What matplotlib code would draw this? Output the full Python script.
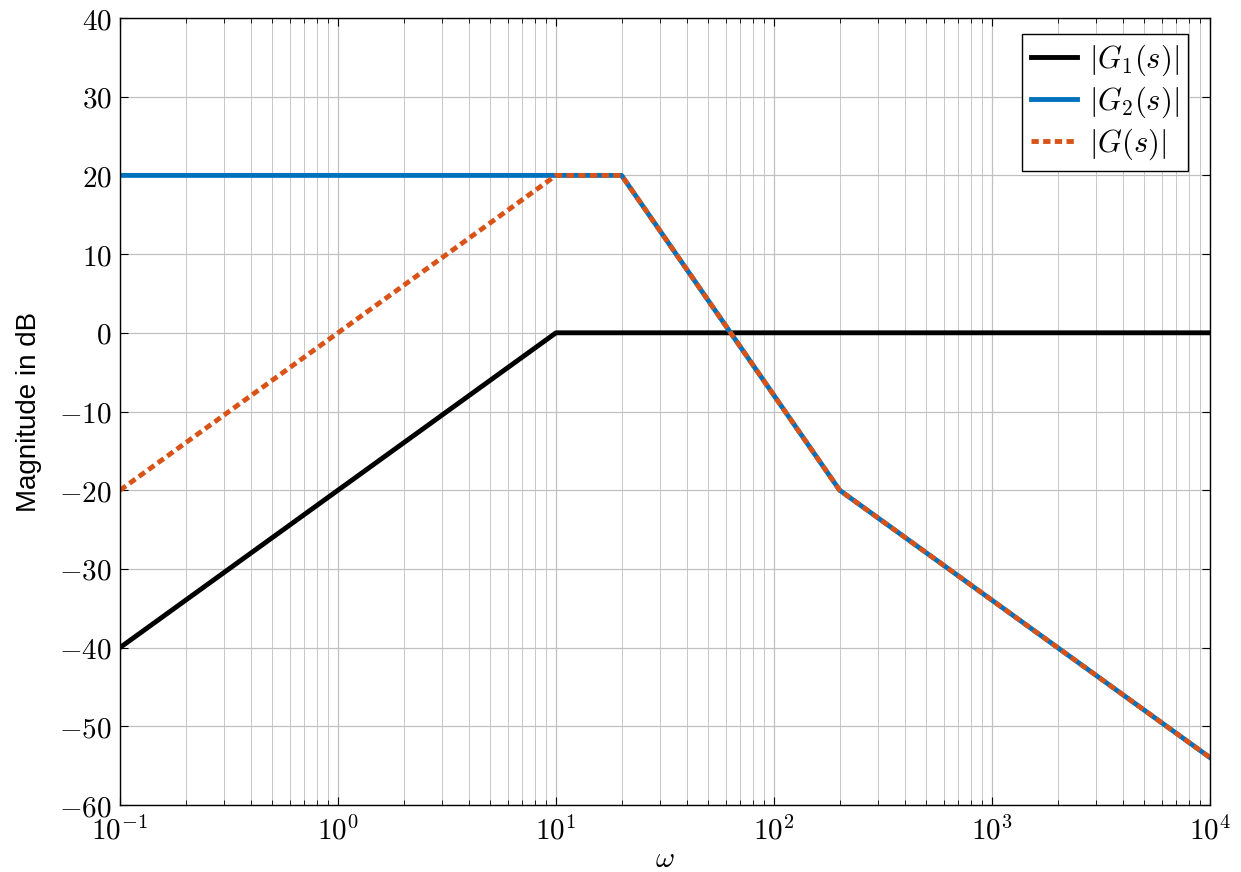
import numpy as np
import matplotlib
matplotlib.use("Agg")
from matplotlib import pyplot as plt
from matplotlib.ticker import LogLocator, MultipleLocator

plt.rcParams['mathtext.fontset'] = 'cm'
plt.rcParams['font.family'] = ['DejaVu Serif']

# Bode asymptotes (corner points)
w1 = [0.1, 10, 1e4]
g1 = [-40, 0, 0]
w2 = [0.1, 20, 200, 1e4]
g2 = [20, 20, -20, -53.98]
w = [0.1, 10, 20, 200, 1e4]
g = [-20, 20, 20, -20, -53.98]

fig = plt.figure(figsize=(12.41, 8.72), dpi=100)
ax = fig.add_axes([120 / 1241, 1 - 805 / 872, 1090 / 1241, 787 / 872])

ax.semilogx(w1, g1, color='black', lw=3.5, label=r'$|G_1(s)|$')
ax.semilogx(w2, g2, color='#0072bd', lw=3.5, label=r'$|G_2(s)|$')
ax.semilogx(w, g, color='#d95319', lw=3.5, ls=(0, (1.5, 0.9)), label=r'$|G(s)|$')

ax.set_xlim(0.1, 1e4)
ax.set_ylim(-60, 40)
ax.yaxis.set_major_locator(MultipleLocator(10))
ax.xaxis.set_major_locator(LogLocator(base=10, numticks=20))
ax.xaxis.set_minor_locator(LogLocator(base=10, subs=np.arange(2, 10), numticks=20))

ax.grid(True, which='major', color='#c0c0c0', lw=0.9)
ax.grid(True, which='minor', color='#c8c8c8', lw=0.7)
ax.set_axisbelow(True)
ax.tick_params(which='both', direction='in', top=True, right=True, labelsize=21)
ax.tick_params(axis='x', pad=8)
ax.tick_params(axis='y', pad=6)
ax.tick_params(which='major', length=6, width=0.8)
ax.tick_params(which='minor', length=3.5, width=0.6)
for s in ax.spines.values():
    s.set_linewidth(1.0)

yt = np.arange(-60, 41, 10)
ax.set_yticks(yt)
ax.set_yticklabels([r'$%d$' % v if v >= 0 else r'$-%d$' % (-v) for v in yt])
ax.set_xticks([0.1, 1, 10, 100, 1000, 10000])
ax.set_xticklabels([r'$10^{-1}$', r'$10^{0}$', r'$10^{1}$', r'$10^{2}$', r'$10^{3}$', r'$10^{4}$'])

ax.set_xlabel(r'$\omega$', fontsize=21, labelpad=0)
ax.set_ylabel('Magnitude in dB', fontsize=20, family='Liberation Sans', labelpad=12)

leg = ax.legend(loc='upper right', fontsize=22, frameon=True, fancybox=False,
                edgecolor='black', framealpha=1, handlelength=1.5,
                borderpad=0.3, labelspacing=0.2, handletextpad=0.4,
                borderaxespad=0, bbox_to_anchor=(0.98, 0.98))
leg.get_frame().set_linewidth(1.0)

fig.savefig('out.png', dpi=100)
